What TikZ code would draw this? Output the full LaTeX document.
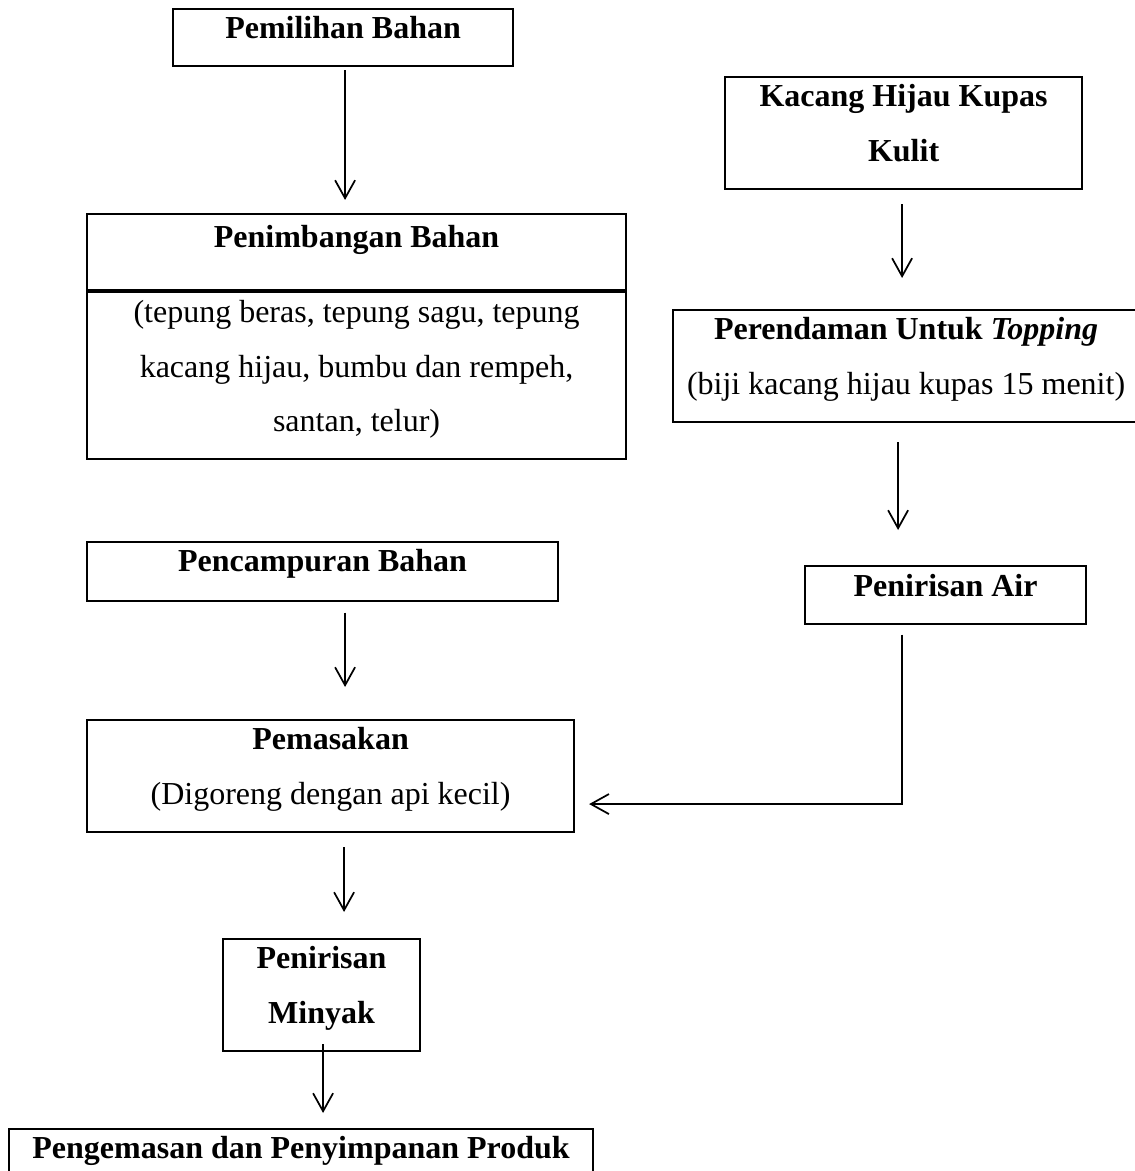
\documentclass[tikz,border=0pt]{standalone}
\usepackage{fontspec}
\setmainfont{Liberation Serif}
\usetikzlibrary{arrows.meta,positioning}

\newdimen\pxl
\pxl=0.375pt

\tikzset{
  stage/.style={draw, line width=0.8pt, inner sep=0pt, anchor=north west, align=center,
    font=\fontsize{12}{20.6}\selectfont\bfseries, text height=29.5\pxl, text depth=27.5\pxl},
  tall/.style={text height=84.5\pxl, text depth=27.5\pxl},
  flow/.style={-{Straight Barb[length=6.75pt,width=7.5pt]}, line width=0.65pt},
}

\begin{document}
\begin{tikzpicture}[x=0.375pt, y=-0.375pt]
  \useasboundingbox (0,0) rectangle (1135,1171);

  \node[stage, minimum width=340\pxl] (pilih) at (172,8) {Pemilihan Bahan};
  \node[stage, minimum width=539\pxl, text height=33\pxl, text depth=43\pxl] (timbang) at (86,213) {Penimbangan Bahan};
  \node[stage, below=0pt of timbang, minimum width=539\pxl, text height=139\pxl, text depth=28\pxl,
    font=\fontsize{12}{20.3}\selectfont] (bahan) {(tepung beras, tepung sagu, tepung\\kacang hijau, bumbu dan rempeh,\\santan, telur)};
  \node[stage, tall, minimum width=357\pxl] (kacang) at (724,76) {Kacang Hijau Kupas\\Kulit};
  \node[stage, tall, minimum width=466\pxl] (rendam) at (672,309) {Perendaman Untuk \textit{Topping}\\\textmd{(biji kacang hijau kupas 15 menit)}};
  \node[stage, minimum width=281\pxl, text height=30\pxl] (air) at (804,565) {Penirisan Air};
  \node[stage, minimum width=471\pxl, text depth=29\pxl] (campur) at (86,541) {Pencampuran Bahan};
  \node[stage, tall, minimum width=487\pxl] (masak) at (86,719) {Pemasakan\\\textmd{(Digoreng dengan api kecil)}};
  \node[stage, tall, minimum width=197\pxl] (minyak) at (222,938) {Penirisan\\Minyak};
  \node[stage, minimum width=584\pxl] (kemas) at (8,1128) {Pengemasan dan Penyimpanan Produk};

  \draw[flow, shorten <=3\pxl, shorten >=13\pxl] ([xshift=2\pxl]pilih.south) -- ([xshift=2\pxl]pilih.south |- timbang.north);
  \draw[flow, shorten <=14\pxl, shorten >=31\pxl] ([xshift=-1.5\pxl]kacang.south) -- ([xshift=-1.5\pxl]kacang.south |- rendam.north);
  \draw[flow, shorten <=19\pxl, shorten >=35\pxl] ([xshift=-8\pxl]rendam.south) -- ([xshift=-8\pxl]rendam.south |- air.north);
  \draw[flow, shorten <=11\pxl, shorten >=32\pxl] ([xshift=22.5\pxl]campur.south) -- ([xshift=22.5\pxl]campur.south |- masak.north);
  \draw[flow, shorten <=14\pxl, shorten >=26\pxl] ([xshift=13.5\pxl]masak.south) -- ([xshift=13.5\pxl]masak.south |- minyak.north);
  \draw[flow, shorten <=-8\pxl, shorten >=15\pxl] ([xshift=1.5\pxl]minyak.south) -- ([xshift=1.5\pxl]minyak.south |- kemas.north);
  \draw[flow, shorten <=10\pxl, shorten >=14\pxl] ([xshift=-43.5\pxl]air.south) |- ([yshift=-28\pxl]masak.east);
\end{tikzpicture}
\end{document}
